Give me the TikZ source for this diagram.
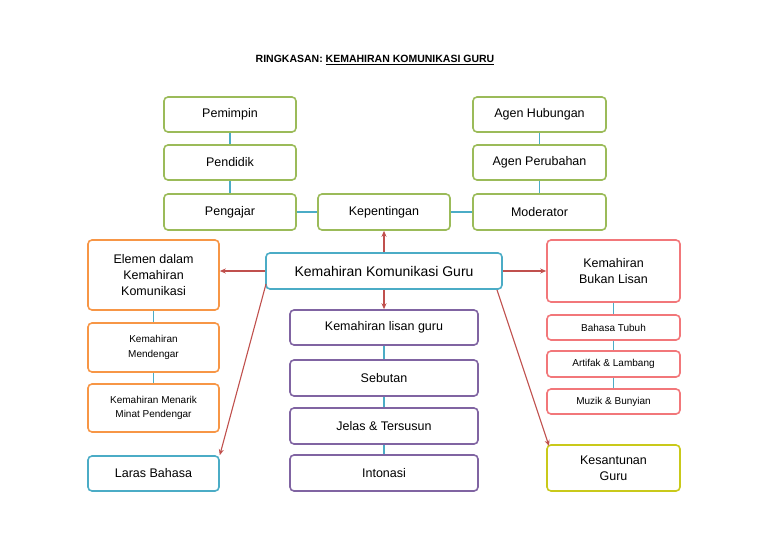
\documentclass[tikz,border=0pt]{standalone}
\usepackage{fontspec}
\setmainfont{Liberation Sans}
\usetikzlibrary{arrows.meta}
\definecolor{cgreen}{HTML}{9BBB59}
\definecolor{cblue}{HTML}{4BACC6}
\definecolor{corange}{HTML}{F79646}
\definecolor{cpurple}{HTML}{8064A2}
\definecolor{cpink}{HTML}{F2777A}
\definecolor{cyellow}{HTML}{C9C91A}
\definecolor{cred}{HTML}{C0504D}
\begin{document}
\begin{tikzpicture}[x=1pt,y=-1pt,
  bx/.style={rounded corners=4pt,line width=1.6pt,fill=white,text=black,align=center,inner sep=1pt,font=\fontsize{12.5}{16}\selectfont},
  sm/.style={font=\fontsize{10}{14.5}\selectfont},
  lnk/.style={cblue,line width=1.5pt},
  arr/.style={cred,line width=1.1pt,-{Stealth[length=6pt,width=5pt]}}]
\useasboundingbox (0,0) rectangle (768,543);
\newcommand\bxat[7]{\node[bx,#6,minimum width=#3-#2,minimum height=#5-#4] (#1) at ({(#2+#3)/2},{(#4+#5)/2}) {#7};}
\node (title) at (375,60) {\fontsize{10.5}{12}\selectfont\bfseries RINGKASAN: \underline{KEMAHIRAN KOMUNIKASI GURU}};
\bxat{pem}{164}{296}{97}{132}{draw=cgreen}{Pemimpin}
\bxat{pen}{164}{296}{145}{180}{draw=cgreen}{Pendidik}
\bxat{peng}{164}{296}{194}{230}{draw=cgreen}{Pengajar}
\bxat{kep}{318}{450}{194}{230}{draw=cgreen}{Kepentingan}
\bxat{agh}{473}{606}{97}{132}{draw=cgreen}{Agen Hubungan}
\bxat{agp}{473}{606}{145}{180}{draw=cgreen}{Agen Perubahan}
\bxat{mod}{473}{606}{194}{230}{draw=cgreen}{Moderator}
\bxat{main}{266}{502}{253}{289}{draw=cblue}{\fontsize{14}{16}\selectfont Kemahiran Komunikasi Guru}
\bxat{laras}{88}{219}{456}{491}{draw=cblue}{Laras Bahasa}
\bxat{ele}{88}{219}{240}{310}{draw=corange}{Elemen dalam\\Kemahiran\\Komunikasi}
\bxat{men}{88}{219}{323}{372}{draw=corange,sm}{Kemahiran\\Mendengar}
\bxat{mna}{88}{219}{384}{432}{draw=corange,sm}{Kemahiran Menarik\\Minat Pendengar}
\bxat{lis}{290}{478}{310}{345}{draw=cpurple}{Kemahiran lisan guru}
\bxat{seb}{290}{478}{360}{396}{draw=cpurple}{Sebutan}
\bxat{jel}{290}{478}{408}{444}{draw=cpurple}{Jelas \& Tersusun}
\bxat{int}{290}{478}{455}{491}{draw=cpurple}{Intonasi}
\bxat{bl}{547}{680}{240}{302}{draw=cpink}{Kemahiran\\Bukan Lisan}
\bxat{bt}{547}{680}{315}{340}{draw=cpink,sm}{Bahasa Tubuh}
\bxat{art}{547}{680}{351}{377}{draw=cpink,sm}{Artifak \& Lambang}
\bxat{muz}{547}{680}{389}{414}{draw=cpink,sm}{Muzik \& Bunyian}
\bxat{kes}{547}{680}{445}{491}{draw=cyellow}{Kesantunan\\Guru}
\draw[lnk] (pem.south) -- (pen.north);
\draw[lnk] (pen.south) -- (peng.north);
\draw[lnk] (agh.south) -- (agp.north);
\draw[lnk] (agp.south) -- (mod.north);
\draw[lnk] (peng.east) -- (kep.west);
\draw[lnk] (kep.east) -- (mod.west);
\draw[lnk] (ele.south) -- (men.north);
\draw[lnk] (men.south) -- (mna.north);
\draw[lnk] (lis.south) -- (seb.north);
\draw[lnk] (seb.south) -- (jel.north);
\draw[lnk] (jel.south) -- (int.north);
\draw[lnk] (bl.south) -- (bt.north);
\draw[lnk] (bt.south) -- (art.north);
\draw[lnk] (art.south) -- (muz.north);
\draw[arr] (main.north) -- (kep.south);
\draw[arr] (main.west) -- (main.west -| ele.east);
\draw[arr] (main.east) -- (main.east -| bl.west);
\draw[arr] (main.south) -- (lis.north);
\coordinate (mlb) at (266,284);
\coordinate (mrb) at (497,290);
\coordinate (kesnw) at (549,446);
\draw[arr] (mlb) -- (laras.north east);
\draw[arr] (mrb) -- (kesnw);
\end{tikzpicture}
\end{document}
